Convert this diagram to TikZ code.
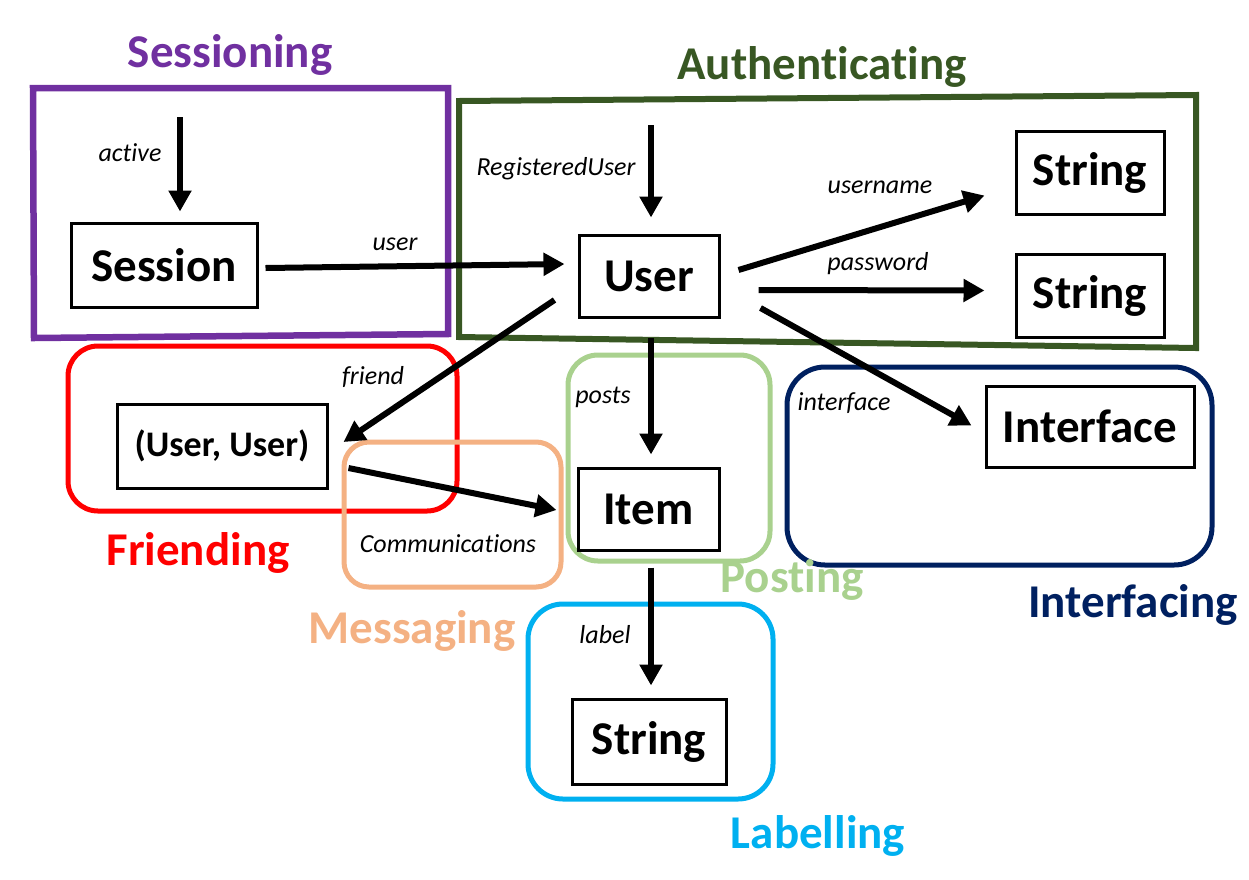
\documentclass[tikz,border=0pt]{standalone}
\usepackage{fontspec}
\setmainfont{Carlito}[RawFeature={-liga;-calt;-clig}]
\usetikzlibrary{arrows.meta,calc}
\definecolor{cPurple}{HTML}{7030A0}
\definecolor{cDGreen}{HTML}{385723}
\definecolor{cRed}{HTML}{FF0000}
\definecolor{cPeach}{HTML}{F4B183}
\definecolor{cLGreen}{HTML}{A9D18E}
\definecolor{cCyan}{HTML}{00B0F0}
\definecolor{cNavy}{HTML}{002060}
\begin{document}
\begin{tikzpicture}[x=1pt,y=-1pt,
  cls/.style={draw, line width=3pt, inner sep=0pt, font=\bfseries\fontsize{47}{50}\selectfont},
  rel/.style={line width=6pt, -{Triangle[width=22pt,length=21pt]}},
  lbl/.style={font=\itshape\fontsize{26}{30}\selectfont, anchor=base, inner sep=0pt},
  ttl/.style={font=\bfseries\fontsize{47}{50}\selectfont, anchor=base, inner sep=0pt},
  grp/.style={line width=5pt}]
\useasboundingbox (0,0) rectangle (1249,879);

% group frames
\draw[cPurple, line width=6.5pt, line join=miter] (33,88) -- (448,88) -- (448,334) -- (34,338) -- cycle;
\draw[cDGreen, line width=6pt, line join=miter] (459,101) -- (1196,95) -- (1196,348) -- (459,337) -- cycle;
\draw[grp, cRed, rounded corners=30pt] (68,346) rectangle (457,511);
\draw[grp, cPeach, rounded corners=25pt] (344,442) rectangle (561,587);
\draw[grp, cLGreen, rounded corners=30pt] (568,355) rectangle (770,561);
\draw[grp, cNavy, rounded corners=38pt] (787,367) rectangle (1212,565);
\draw[grp, cCyan, rounded corners=35pt] (528,604) rectangle (773,799);

% titles
\node[ttl, text=cPurple] (tSess) at (230,67) {Sessioning};
\node[ttl, text=cDGreen] (tAuth) at (822,79) {Authenticating};
\node[ttl, text=cRed] (tFriend) at (198,565) {Friending};
\node[ttl, text=cPeach] (tMsg) at (412,643) {Messaging};
\node[ttl, text=cLGreen] (tPost) at (792,592) {Posting};
\node[ttl, text=cNavy] (tIface) at (1133,617) {Interfacing};
\node[ttl, text=cCyan] (tLabel) at (818,848) {Labelling};

% class nodes
\node[cls, minimum width=186pt, minimum height=84pt] (session) at (164,265) {Session};
\node[cls, minimum width=140pt, minimum height=82pt] (user) at (649,276) {User};
\node[cls, minimum width=148pt, minimum height=83pt] (s1) at (1090,172.5) {String};
\node[cls, minimum width=148pt, minimum height=83pt] (s2) at (1090,295.5) {String};
\node[cls, minimum width=208pt, minimum height=81pt] (iface) at (1090,426.5) {Interface};
\node[cls, minimum width=210pt, minimum height=84pt, font=\bfseries\fontsize{36}{40}\selectfont] (uu) at (222,446) {(User, User)};
\node[cls, minimum width=141pt, minimum height=82pt] (item) at (648.5,509) {Item};
\node[cls, minimum width=154pt, minimum height=85pt] (s3) at (649,741.5) {String};

% free ends
\coordinate (a0) at (180,117);
\coordinate (r0) at (651,125);

% relations
\draw[rel] (a0) -- ($(a0 |- session.north)+(0,-10)$);
\draw[rel] ($(session.east)+(7,3)$) -- ($(user.west)+(-13,-12)$);
\draw[rel] (r0) -- ($(r0 |- user.north)+(0,-16)$);
\draw[rel] ($(user.east)+(18,-6)$) -- ($(s1.west)+(-30,23)$);
\draw[rel] ($(user.east)+(38,14)$) -- ($(s2.west)+(-30,-5)$);
\draw[rel] ($(user.east)+(40,32)$) -- ($(iface.west)+(-13,-1)$);
\draw[rel] ($(user.west)+(-23,24)$) -- ($(uu.east)+(15,-4)$);
\draw[rel] ($(uu.east)+(20,22)$) -- ($(item.west)+(-20,1)$);
\draw[rel] ($(user.south)+(2,19)$) -- ($(item.north)+(2.5,-12)$);
\draw[rel] ($(item.south)+(2.5,16)$) -- ($(s3.north)+(2,-12)$);

% relation labels
\node[lbl] (lActive) at (130,161) {active};
\node[lbl] (lUser) at (395,250) {user};
\node[lbl] (lReg) at (556,175) {RegisteredUser};
\node[lbl] (lUname) at (880,193) {username};
\node[lbl] (lPass) at (878,270) {password};
\node[lbl] (lFriend) at (373,384) {friend};
\node[lbl] (lPosts) at (603,403) {posts};
\node[lbl] (lIface) at (844,410) {interface};
\node[lbl] (lComm) at (448,552) {Communications};
\node[lbl] (lLabel) at (605,643) {label};
\end{tikzpicture}
\end{document}
